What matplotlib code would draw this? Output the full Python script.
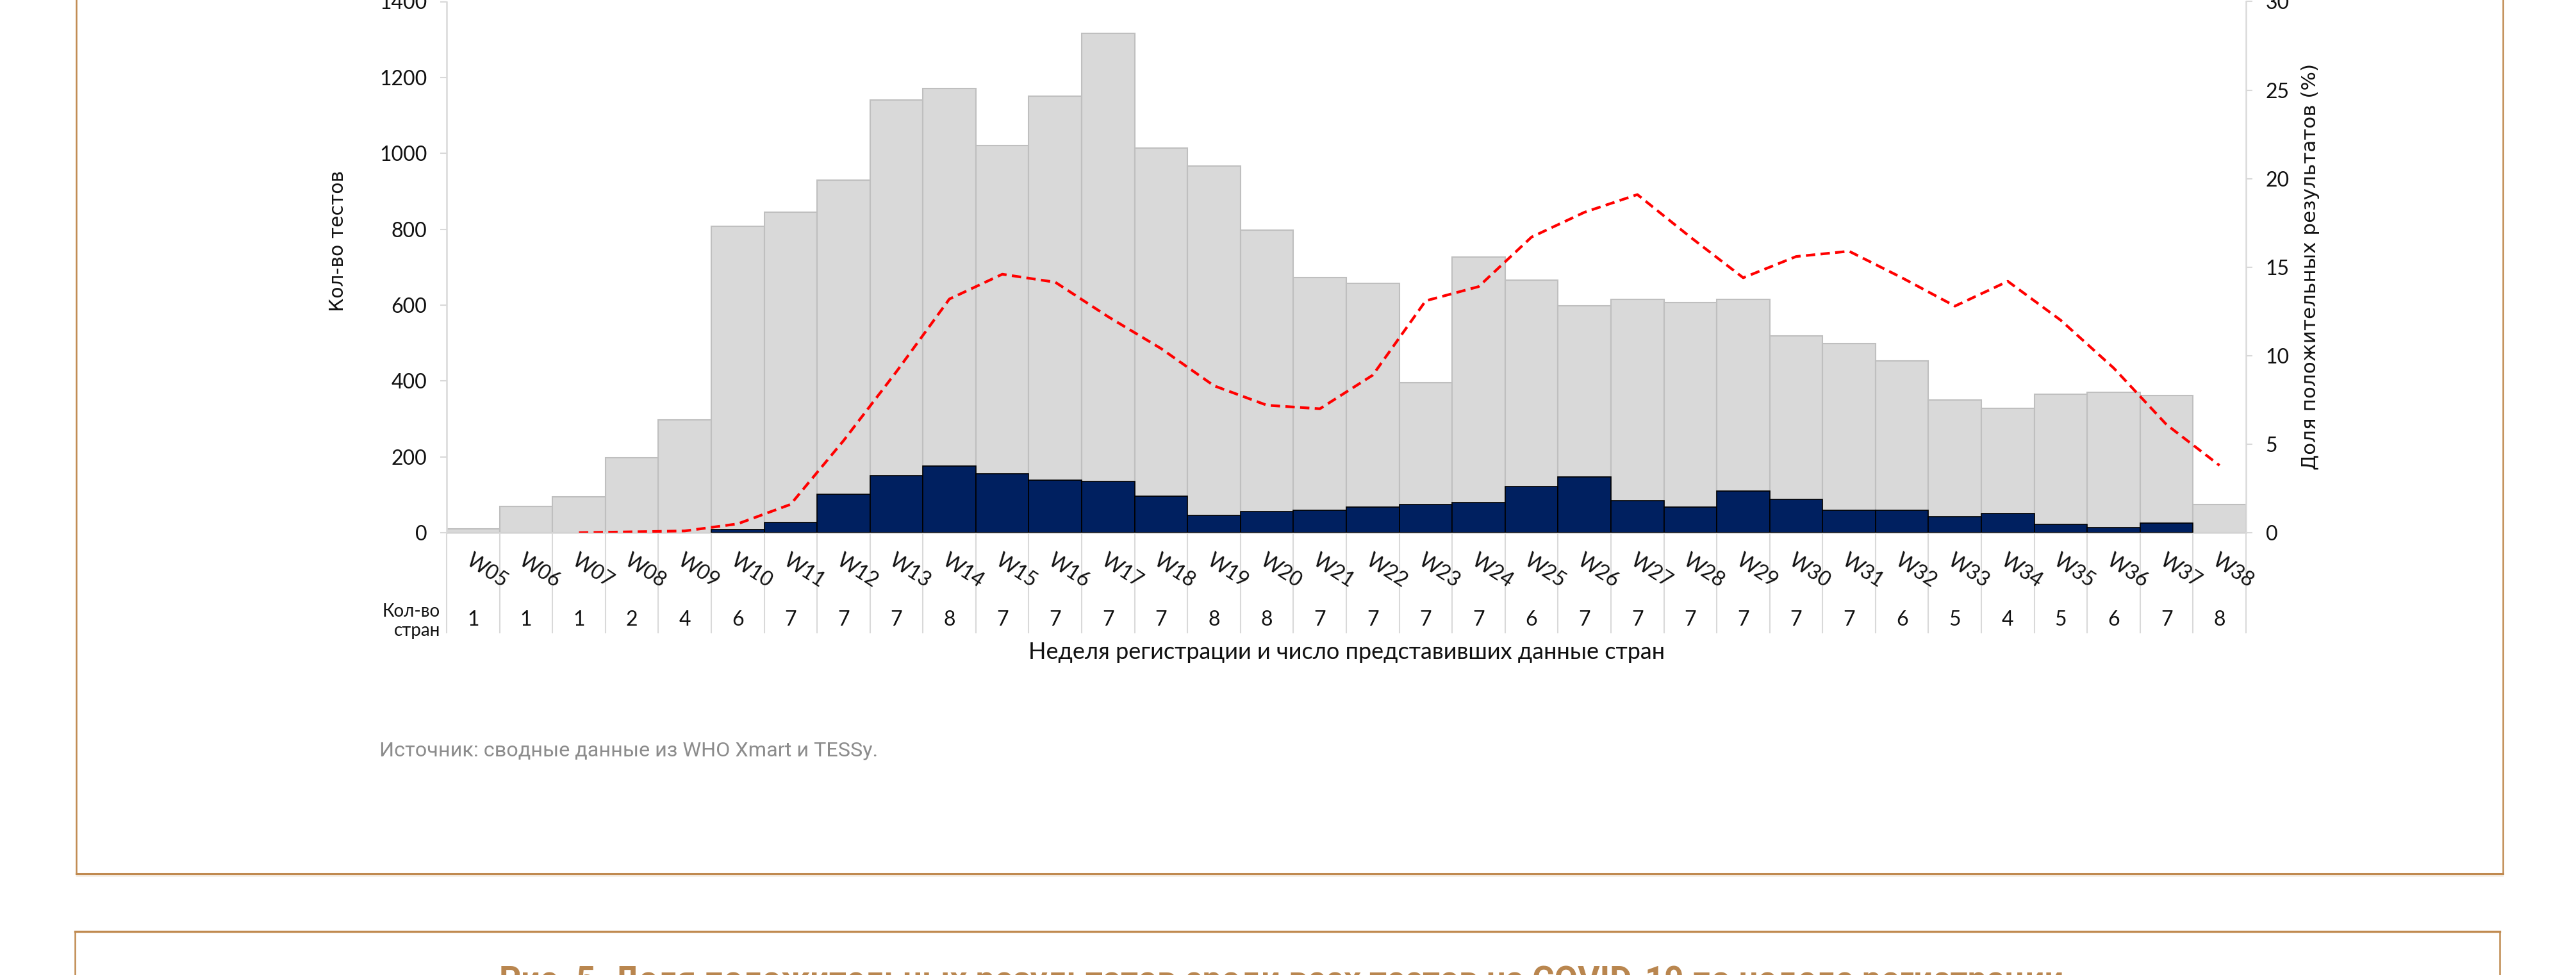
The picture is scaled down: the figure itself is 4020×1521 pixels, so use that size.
import numpy as np
import matplotlib
matplotlib.use("Agg")
import matplotlib.pyplot as plt
from matplotlib.lines import Line2D

# ---------------- data ----------------
weeks = ["W05", "W06", "W07", "W08", "W09", "W10", "W11", "W12", "W13", "W14",
         "W15", "W16", "W17", "W18", "W19", "W20", "W21", "W22", "W23", "W24",
         "W25", "W26", "W27", "W28", "W29", "W30", "W31", "W32", "W33", "W34",
         "W35", "W36", "W37", "W38"]
tests = [10, 69, 94, 198, 298, 808, 845, 929, 1141, 1171,
         1021, 1150, 1317, 1014, 967, 797, 672, 657, 395, 727,
         665, 599, 615, 606, 615, 519, 499, 453, 349, 328,
         365, 370, 361, 74]
positives = [0, 0, 0, 0, 0, 9, 27, 101, 150, 175,
             155, 138, 135, 97, 46, 55, 59, 68, 75, 80,
             122, 147, 85, 68, 109, 88, 59, 59, 42, 51,
             22, 13, 26, 0]
pct_positive = [np.nan, np.nan, 0.0, 0.05, 0.1, 0.5, 1.6, 5.2, 9.1, 13.2,
                14.6, 14.15, 12.2, 10.4, 8.3, 7.2, 7.0, 8.9, 13.1, 13.9,
                16.7, 18.1, 19.1, 16.7, 14.4, 15.6, 15.9, 14.4, 12.8, 14.2,
                12.0, 9.3, 6.1, 3.8]
countries = [1, 1, 1, 2, 4, 6, 7, 7, 7, 8,
             7, 7, 7, 7, 8, 8, 7, 7, 7, 7,
             6, 7, 7, 7, 7, 7, 7, 6, 5, 4,
             5, 6, 7, 8]
left_ticks = [0, 200, 400, 600, 800, 1000, 1200, 1400]
right_ticks = [0, 5, 10, 15, 20, 25, 30]

# ---------------- layout helpers ----------------
W, H = 4020, 1521
def fx(px): return px / W
def fy(py): return 1 - py / H

plt.rcParams['font.family'] = ['Lato', 'DejaVu Sans']
TXT = '#111111'
GRID = '#d9d9d9'
BROWN = '#c08a50'

fig = plt.figure(figsize=(W / 100, H / 100), dpi=100)
fig.patch.set_facecolor('white')

ax_left, ax_right_px, ax_top, ax_zero = 697, 3505, 2.5, 831
ax = fig.add_axes([fx(ax_left), fy(ax_zero), (ax_right_px - ax_left) / W, (ax_zero - ax_top) / H])
ax_h = ax_zero - ax_top
def ya(py):  # figure pixel y -> axes fraction
    return (ax_zero - py) / ax_h

x = np.arange(len(weeks))
ax.bar(x, tests, width=1.0, color='#d9d9d9', edgecolor='#bfbfbf', linewidth=1.5, zorder=2)
pos_edges = ['#000000' if v > 0 else 'none' for v in positives]
ax.bar(x, positives, width=1.0, color='#002060', edgecolor=pos_edges, linewidth=1.2, zorder=3)

ax.set_xlim(-0.5, len(weeks) - 0.5)
ax.set_ylim(0, 1400)
ax.set_yticks(left_ticks)
ax.set_xticks([])
for s in ['top', 'right']:
    ax.spines[s].set_visible(False)
for s in ['left', 'bottom']:
    ax.spines[s].set_color(GRID)
    ax.spines[s].set_linewidth(1.8)
ax.tick_params(axis='y', length=7, width=1.5, color=GRID, pad=15, labelsize=23, labelcolor=TXT)

ax2 = ax.twinx()
ax2.set_ylim(0, 30)
ax2.set_yticks(right_ticks)
for s in ['top', 'left', 'bottom']:
    ax2.spines[s].set_visible(False)
ax2.spines['right'].set_color(GRID)
ax2.spines['right'].set_linewidth(1.8)
ax2.tick_params(axis='y', length=7, width=1.5, color=GRID, pad=15, labelsize=23, labelcolor=TXT)
ax2.plot(x, pct_positive, color='#ff0000', lw=3, dashes=(3.5, 2), zorder=5)

# table-like gridlines under the axis
ax.vlines(np.arange(len(weeks) + 1) - 0.5, ya(988), 0, transform=ax.get_xaxis_transform(),
          colors=GRID, lw=1.5, clip_on=False)

for i, (w, c) in enumerate(zip(weeks, countries)):
    ax.text(i, ya(859), w, rotation=-33, rotation_mode='anchor', ha='left', va='top',
            transform=ax.get_xaxis_transform(), fontsize=23, color=TXT, clip_on=False)
    ax.text(i, ya(967), str(c), ha='center', va='center',
            transform=ax.get_xaxis_transform(), fontsize=23, color=TXT, clip_on=False)

fig.text(fx(687), fy(969), 'Кол-во\nстран', ha='right', va='center', multialignment='right',
         fontsize=20, color=TXT, linespacing=1.15)
fig.text(fx(2102), fy(1018), 'Неделя регистрации и число представивших данные стран',
         ha='center', va='center', fontsize=26, color=TXT)
fig.text(fx(527), fy(376), 'Кол-во тестов', rotation=90, ha='center', va='center',
         family='DejaVu Sans', fontsize=21.5, color=TXT)
fig.text(fx(3605), fy(416), 'Доля положительных результатов (%)', rotation=90,
         ha='center', va='center', family='DejaVu Sans', fontsize=22.3, color=TXT)
fig.text(fx(592), fy(1172), 'Источник: сводные данные из WHO Xmart и TESSy.',
         ha='left', va='center', family=['Roboto', 'DejaVu Sans'], fontsize=23.3, color='#8c8c8c')

# page frames
def fline(xs, ys, **kw):
    fig.add_artist(Line2D([fx(v) for v in xs], [fy(v) for v in ys], transform=fig.transFigure, **kw))

fline([119, 119], [-5, 1363], color=BROWN, lw=1.8)
fline([3906, 3906], [-5, 1363], color=BROWN, lw=1.8)
fline([119, 3906], [1363, 1363], color=BROWN, lw=2.2)
fline([119, 3906], [1366, 1366], color='#e5d2b8', lw=1.0)
fline([117, 3901], [1453, 1453], color=BROWN, lw=2.4)
fline([117, 117], [1453, 1530], color=BROWN, lw=1.8)
fline([3901, 3901], [1453, 1530], color=BROWN, lw=1.8)

fig.text(fx(2000), fy(1506),
         'Рис. 5. Доля положительных результатов среди всех тестов на COVID-19 по неделе регистрации',
         ha='center', va='top', fontweight='bold', color='#b9864f', fontsize=38,
         family=['Roboto', 'DejaVu Sans'])

fig.savefig('out.png', dpi=100)
